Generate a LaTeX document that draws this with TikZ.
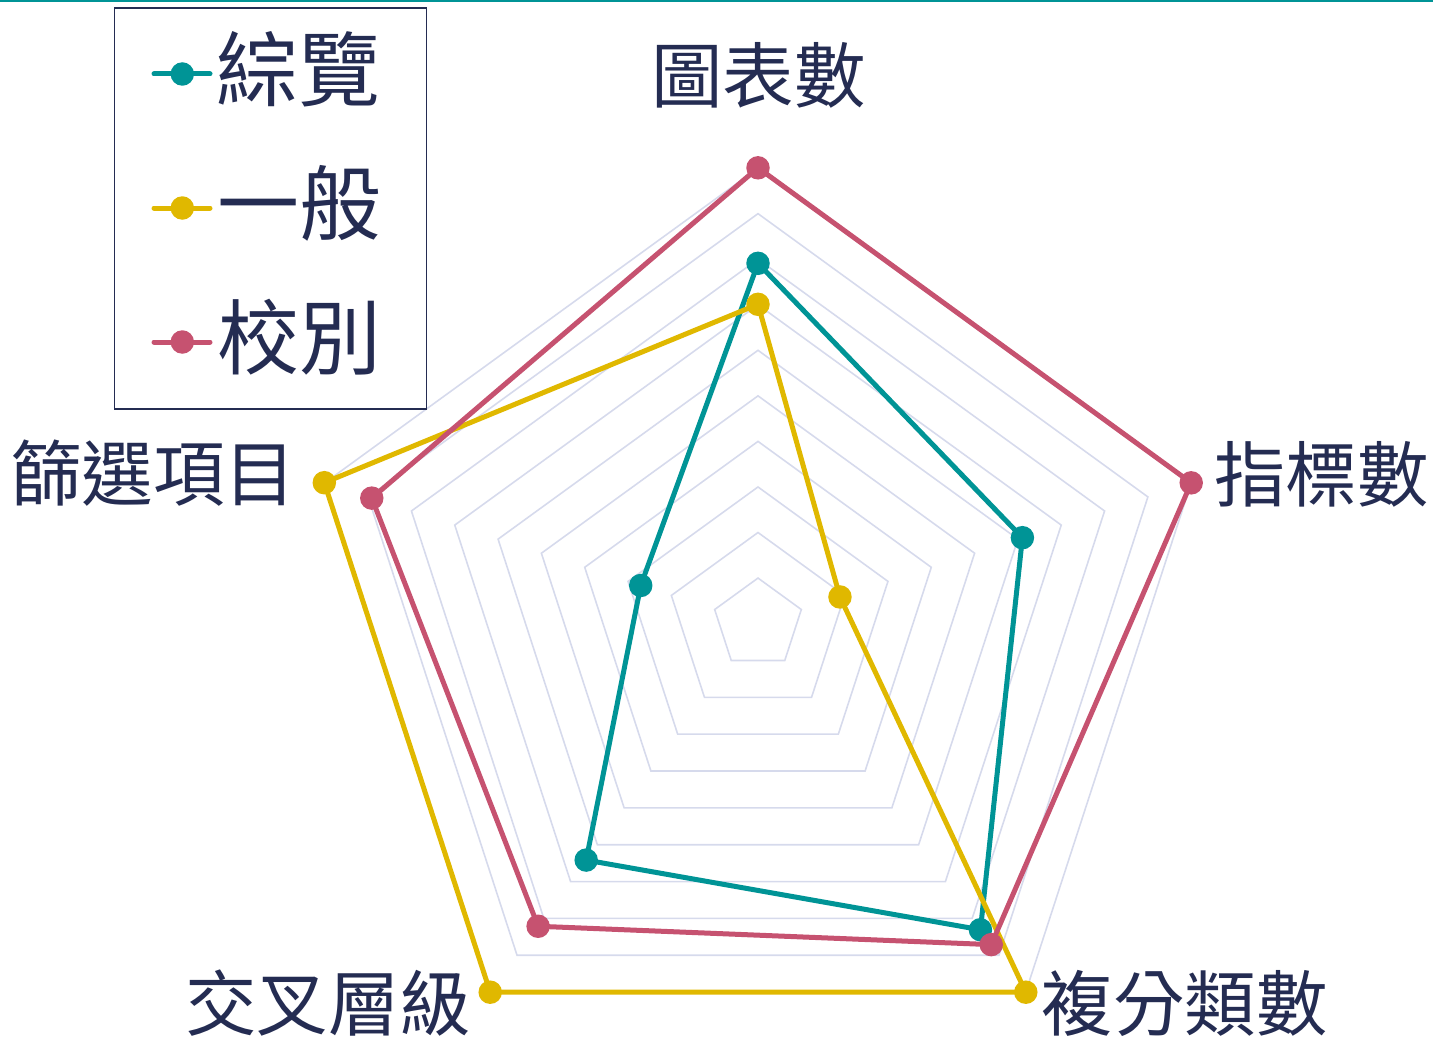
\documentclass[tikz,border=0pt]{standalone}
\usepackage{fontspec}
\setmainfont{Noto Sans CJK TC}
\definecolor{cteal}{RGB}{0,148,150}
\definecolor{cyel}{RGB}{224,184,0}
\definecolor{cred}{RGB}{198,82,112}
\definecolor{cnavy}{RGB}{36,44,82}
\definecolor{cgrid}{RGB}{214,218,236}
\tikzset{
  gridline/.style={draw=cgrid, line width=1.6pt, line join=miter},
  serline/.style={line width=5pt, line join=round, line cap=round},
  dotmark/.style={circle, inner sep=0pt, minimum size=23.5pt},
  axislabel/.style={text=cnavy, inner sep=0pt, font=\fontsize{71.5pt}{80pt}\selectfont, text height=62.9pt, text depth=8.6pt},
  legendlabel/.style={text=cnavy, inner sep=0pt, font=\fontsize{82pt}{90pt}\selectfont, text height=72.2pt, text depth=9.8pt},
  legendframe/.style={draw=cnavy, line width=1.5pt, inner sep=0pt, minimum width=312pt, minimum height=401pt, anchor=north west},
}
\begin{document}
\begin{tikzpicture}[x=1pt,y=-1pt]
\useasboundingbox (0,0) rectangle (1433,1041);
\fill[cteal] (0,0) rectangle (1433,2);
% radar grid (angles negated because the y axis points down)
\begin{scope}[shift={(758,623.6)}]
\foreach \k in {1,...,10}{
  \draw[gridline] (-90:{\k*45.55}) -- (-18:{\k*45.55}) -- (54:{\k*45.55}) -- (126:{\k*45.55}) -- (-162:{\k*45.55}) -- cycle;
}
% teal series
\coordinate (ta) at (-90:360.3);
\coordinate (tb) at (-18:278.0);
\coordinate (tc) at (54:378.4);
\coordinate (td) at (126:292.3);
\coordinate (te) at (-162:123.3);
\draw[serline, cteal] (ta) -- (tb) -- (tc) -- (td) -- (te) -- cycle;
\foreach \p in {ta,tb,tc,td,te}{\node[dotmark, fill=cteal] (n\p) at (\p) {};}
% yellow series
\coordinate (ya) at (-90:319.3);
\coordinate (yb) at (-18:86.2);
\coordinate (yc) at (54:455.6);
\coordinate (yd) at (126:455.6);
\coordinate (ye) at (-162:456.0);
\draw[serline, cyel] (ya) -- (yb) -- (yc) -- (yd) -- (ye) -- cycle;
\foreach \p in {ya,yb,yc,yd,ye}{\node[dotmark, fill=cyel] (n\p) at (\p) {};}
% red series
\coordinate (ra) at (-90:455.8);
\coordinate (rb) at (-18:455.5);
\coordinate (rc) at (54:396.8);
\coordinate (rd) at (126:374.1);
\coordinate (re) at (-162:406.1);
\draw[serline, cred] (ra) -- (rb) -- (rc) -- (rd) -- (re) -- cycle;
\foreach \p in {ra,rb,rc,rd,re}{\node[dotmark, fill=cred] (n\p) at (\p) {};}
\end{scope}
% axis labels
\node[axislabel] (l1) at (758.7,75) {圖表數};
\node[axislabel] (l2) at (1321.5,474) {指標數};
\node[axislabel] (l3) at (1184.7,1003) {複分類數};
\node[axislabel] (l4) at (328.3,1003) {交叉層級};
\node[axislabel] (l5) at (153,473) {篩選項目};
% legend
\node[legendframe] (legend) at (113.7,7.3) {};
\coordinate (k1a) at (154,74);   \coordinate (k1b) at (210,74);
\coordinate (k2a) at (154,208);  \coordinate (k2b) at (210,208);
\coordinate (k3a) at (154,342);  \coordinate (k3b) at (210,342);
\draw[serline, cteal] (k1a) -- (k1b);
\node[dotmark, fill=cteal] (k1) at (182.3,74) {};
\draw[serline, cyel] (k2a) -- (k2b);
\node[dotmark, fill=cyel] (k2) at (182.3,208) {};
\draw[serline, cred] (k3a) -- (k3b);
\node[dotmark, fill=cred] (k3) at (182.3,342) {};
\node[legendlabel] (g1) at (298.5,69.5) {綜覽};
\node[legendlabel] (g2) at (299,203) {一般};
\node[legendlabel] (g3) at (299,337) {校別};
\end{tikzpicture}
\end{document}
